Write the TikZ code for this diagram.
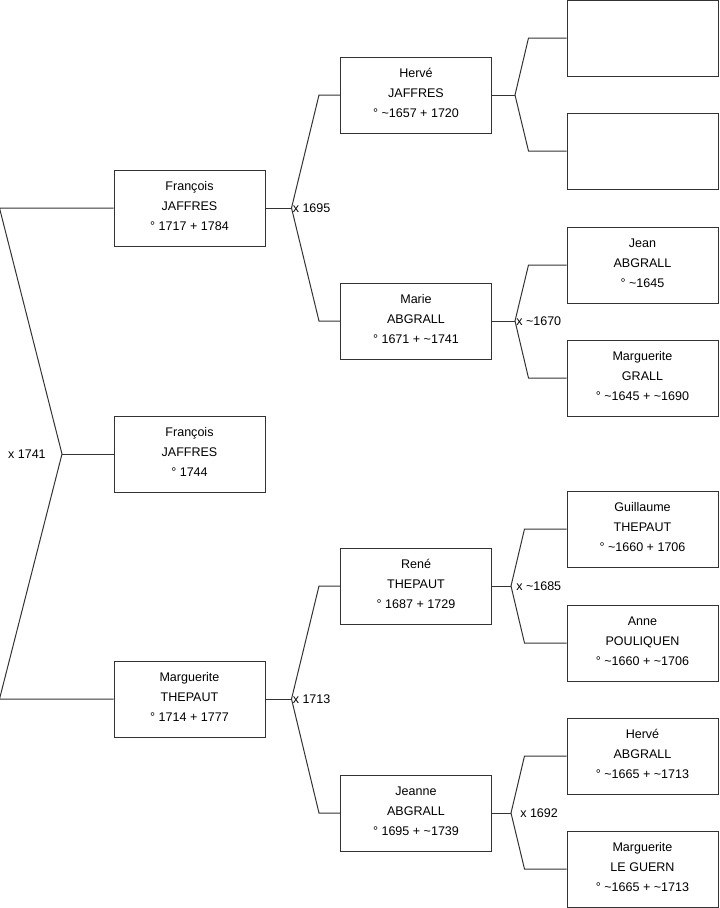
\documentclass[tikz,border=0pt]{standalone}
\usepackage{fontspec}
\setmainfont{Liberation Sans}
\usetikzlibrary{calc}
\definecolor{lnk}{HTML}{333333}
\newcommand{\circa}{\textasciitilde}
\tikzset{
  pers/.style={rectangle,draw=lnk,fill=white,line width=0.75pt,
               minimum width=113.25pt,minimum height=57pt,inner sep=0pt,
               align=center,font=\fontsize{9.4}{15}\selectfont,text=black,
               text depth=3pt},
  tie/.style={draw=lnk,line width=0.75pt},
  mar/.style={font=\fontsize{9.4}{11}\selectfont,inner sep=0pt,text=black},
}

\begin{document}
\begin{tikzpicture}[x=0.75pt,y=-0.75pt]
  \useasboundingbox (0,0) rectangle (719,908);

  % generation 1
  \node[pers] (fj)  at (189.5,208) {François\\JAFFRES\\° 1717 + 1784};
  \node[pers] (fj2) at (189.5,454) {François\\JAFFRES\\° 1744};
  \node[pers] (mt)  at (189.5,699) {Marguerite\\THEPAUT\\° 1714 + 1777};

  % generation 2
  \node[pers] (hj) at (416,95)  {Hervé\\JAFFRES\\° \circa1657 + 1720};
  \node[pers] (ma) at (416,321) {Marie\\ABGRALL\\° 1671 + \circa1741};
  \node[pers] (rt) at (416,586) {René\\THEPAUT\\° 1687 + 1729};
  \node[pers] (ja) at (416,813) {Jeanne\\ABGRALL\\° 1695 + \circa1739};

  % generation 3
  \node[pers] (pa)  at (642.5,38)  {};
  \node[pers] (pb)  at (642.5,151) {};
  \node[pers] (jab) at (642.5,265) {Jean\\ABGRALL\\° \circa1645};
  \node[pers] (mg)  at (642.5,378) {Marguerite\\GRALL\\° \circa1645 + \circa1690};
  \node[pers] (gt)  at (642.5,529) {Guillaume\\THEPAUT\\° \circa1660 + 1706};
  \node[pers] (ap)  at (642.5,643) {Anne\\POULIQUEN\\° \circa1660 + \circa1706};
  \node[pers] (hab) at (642.5,756) {Hervé\\ABGRALL\\° \circa1665 + \circa1713};
  \node[pers] (mlg) at (642.5,869) {Marguerite\\LE GUERN\\° \circa1665 + \circa1713};

  % couples
  \coordinate (m0) at (62,454);
  \draw[tie] (fj2.west) -- (m0);
  \draw[tie] (fj.west) -- ($(fj.west)+(-114,0)$) -- (m0) -- ($(mt.west)+(-114,0)$) -- (mt.west);
  \node[mar,anchor=east] at ($(m0)+(-16,0)$) {x 1741};

  \draw[tie] (fj.east) -- ++(26,0) coordinate (m1);
  \draw[tie] (hj.west) -- ++(-21,0) -- (m1) -- ($(ma.west)+(-21,0)$) -- (ma.west);
  \node[mar,anchor=west] at ($(m1)+(1,0)$) {x 1695};

  \draw[tie] (mt.east) -- ++(26,0) coordinate (m2);
  \draw[tie] (rt.west) -- ++(-21,0) -- (m2) -- ($(ja.west)+(-21,0)$) -- (ja.west);
  \node[mar,anchor=west] at ($(m2)+(1,0)$) {x 1713};

  \draw[tie] (hj.east) -- ++(23,0) coordinate (m3);
  \draw[tie] (pa.west) -- ++(-38,0) -- (m3) -- ($(pb.west)+(-38,0)$) -- (pb.west);

  \draw[tie] (ma.east) -- ++(23,0) coordinate (m4);
  \draw[tie] (jab.west) -- ++(-38,0) -- (m4) -- ($(mg.west)+(-38,0)$) -- (mg.west);
  \node[mar,anchor=west] at ($(m4)+(1,0)$) {x \circa1670};

  \draw[tie] (rt.east) -- ++(19,0) coordinate (m5);
  \draw[tie] (gt.west) -- ++(-42,0) -- (m5) -- ($(ap.west)+(-42,0)$) -- (ap.west);
  \node[mar,anchor=west] at ($(m5)+(5,0)$) {x \circa1685};

  \draw[tie] (ja.east) -- ++(19,0) coordinate (m6);
  \draw[tie] (hab.west) -- ++(-42,0) -- (m6) -- ($(mlg.west)+(-42,0)$) -- (mlg.west);
  \node[mar,anchor=west] at ($(m6)+(9,0)$) {x 1692};
\end{tikzpicture}
\end{document}
